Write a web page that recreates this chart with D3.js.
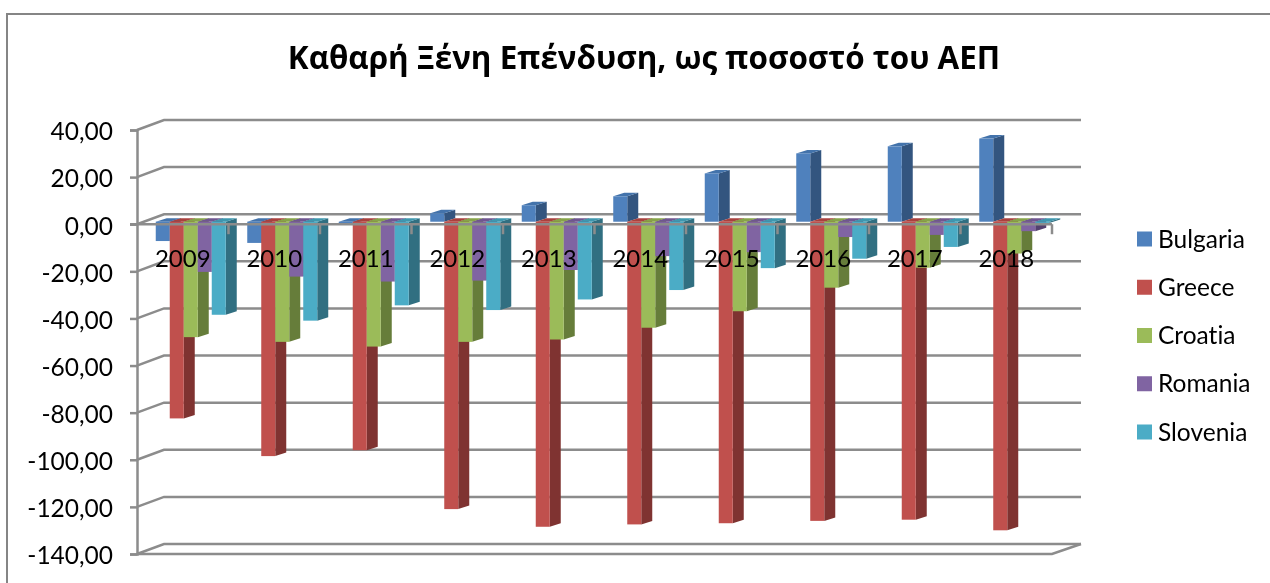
<!DOCTYPE html>
<html>
<head>
<meta charset="utf-8">
<script src="https://cdn.jsdelivr.net/npm/d3@7"></script>
<style>
    html, body { margin: 0; padding: 0; background: #fff; overflow: hidden; }
    svg { filter: blur(0.35px); }
    text { font-family: Lato, "Open Sans", sans-serif; fill: #000; font-variant-ligatures: none; }
</style>
</head>
<body>
<div id="chart"></div>
<script>
const years = ["2009", "2010", "2011", "2012", "2013", "2014", "2015", "2016", "2017", "2018"];
const seriesNames = ["Bulgaria", "Greece", "Croatia", "Romania", "Slovenia"];
const bulgaria = [-8.2, -9, -1, 3.6, 7, 10.8, 20.5, 29, 32, 35.3];
const greece = [-83.5, -99.5, -97, -122, -129.5, -128.5, -128, -127, -126.5, -131];
const croatia = [-49, -51, -53, -51, -50, -45, -38, -28, -19.5, -13.5];
const romania = [-21.3, -23.3, -25.4, -25, -20.5, -14.6, -12.9, -6.5, -5.6, -4];
const slovenia = [-39.5, -42, -35.5, -37.5, -33, -29, -19.7, -15.7, -10.7, -0.5];
const seriesValues = [bulgaria, greece, croatia, romania, slovenia];
const yTicks = [40, 20, 0, -20, -40, -60, -80, -100, -120, -140];
const titleText = "Καθαρή Ξένη Επένδυση, ως ποσοστό του ΑΕΠ";

const frontColors = ["#4f81bd", "#c0504d", "#9bbb59", "#8064a2", "#4bacc6"];
const sideColors = ["#33557f", "#7f3331", "#667d3a", "#54416f", "#316f81"];
const topColors = ["#4373ab", "#a8413e", "#86a348", "#6f5690", "#3f97ae"];

const width = 1270, height = 583;
const wallDx = 27, wallDy = -10;   // floor depth
const gapDx = 8, gapDy = -2.5;     // bars sit a bit behind the front edge
const barDx = 11, barDy = -3.5;    // bar depth
const grey = "#8c8c8c";

const svg = d3.select("#chart").append("svg")
    .attr("width", width)
    .attr("height", height);

// frame, cut off on the right and the bottom
svg.append("path")
    .attr("d", `M7,${height}V14H${width}`)
    .attr("fill", "none")
    .attr("stroke", "#858585")
    .attr("stroke-width", 2);

svg.append("text")
    .attr("x", 644)
    .attr("y", 69)
    .attr("text-anchor", "middle")
    .style("font-family", "'Open Sans'")
    .style("font-size", "31.4px")
    .style("font-weight", 700)
    .text(titleText);

const x0 = d3.scaleBand().domain(years).range([137, 1052]);
const x1 = d3.scaleBand().domain(seriesNames).range([0, x0.bandwidth()]).paddingInner(0).paddingOuter(0.768);
const y = d3.scaleLinear().domain([-140, 40]).range([554, 130]);

// side wall and back wall gridlines
const grid = svg.append("g")
    .attr("fill", "none")
    .attr("stroke", grey)
    .attr("stroke-width", 2.5);

grid.selectAll("path")
    .data(yTicks)
    .enter()
    .append("path")
    .attr("d", d => `M${x0.range()[0]},${y(d)}l${wallDx},${wallDy}H${x0.range()[1] + wallDx + 2}`);

// floor front edge and right side
grid.append("path")
    .attr("d", `M${x0.range()[0]},${y(-140)}H${x0.range()[1]}l${wallDx + 2},${wallDy}`);

const yAxis = d3.axisLeft(y)
    .tickValues(yTicks)
    .tickSize(7)
    .tickPadding(17)
    .tickFormat(d => d3.format(".2f")(d).replace(".", ",").replace("−", "-"));

const yAxisG = svg.append("g")
    .attr("transform", `translate(${x0.range()[0]},0)`)
    .call(yAxis);
yAxisG.select(".domain").attr("stroke", grey).attr("stroke-width", 2.5);
yAxisG.selectAll(".tick line").attr("stroke", grey).attr("stroke-width", 2.5);
yAxisG.selectAll(".tick text")
    .attr("dy", "0.4em")
    .style("font-size", "24.5px")
    .style("font-family", "Lato");

// 3D bars
const poly = d3.line();
const bars = svg.append("g");

years.forEach((year, i) => {
    seriesNames.forEach((name, s) => {
        const v = seriesValues[s][i];
        const xa = x0(year) + x1(name) + gapDx;
        const xb = xa + x1.bandwidth();
        const yZero = y(0) + gapDy;
        const yVal = y(v) + gapDy;
        const yTop = Math.min(yZero, yVal);
        const g = bars.append("g").attr("class", "bar");

        g.append("path")
            .attr("d", poly([[xb, yZero], [xb + barDx, yZero + barDy], [xb + barDx, yVal + barDy], [xb, yVal]]) + "Z")
            .attr("fill", sideColors[s]);
        g.append("path")
            .attr("d", poly([[xa, yTop], [xa + barDx, yTop + barDy], [xb + barDx, yTop + barDy], [xb, yTop]]) + "Z")
            .attr("fill", topColors[s]);
        g.append("rect")
            .attr("x", xa)
            .attr("y", yTop)
            .attr("width", x1.bandwidth())
            .attr("height", Math.abs(yVal - yZero))
            .attr("fill", frontColors[s]);
    });
});

// zero axis goes over the bars, with ticks at the category edges
const xLine = svg.append("g")
    .attr("stroke", grey)
    .attr("stroke-width", 2.5);
xLine.append("line")
    .attr("x1", x0.range()[0] - 7)
    .attr("x2", x0.range()[1])
    .attr("y1", y(0))
    .attr("y2", y(0));
xLine.selectAll(".cat-tick")
    .data(years)
    .enter()
    .append("line")
    .attr("class", "cat-tick")
    .attr("x1", d => x0(d) + x0.bandwidth())
    .attr("x2", d => x0(d) + x0.bandwidth())
    .attr("y1", y(0))
    .attr("y2", y(0) + 10);

svg.append("g").selectAll("text")
    .data(years)
    .enter()
    .append("text")
    .attr("x", d => x0(d) + x0.bandwidth() / 2)
    .attr("y", 266.5)
    .attr("text-anchor", "middle")
    .style("font-size", "24px")
    .text(d => d);

// legend
const legendY = d3.scalePoint().domain(seriesNames).range([239, 432]);
const legend = svg.append("g").selectAll("g")
    .data(seriesNames)
    .enter()
    .append("g")
    .attr("transform", d => `translate(1137,${legendY(d)})`);
legend.append("rect")
    .attr("y", -7.5)
    .attr("width", 15)
    .attr("height", 15)
    .attr("fill", (d, i) => frontColors[i]);
legend.append("text")
    .attr("x", 21)
    .attr("y", 8.5)
    .style("font-size", "24.5px")
    .text(d => d);
</script>
</body>
</html>
